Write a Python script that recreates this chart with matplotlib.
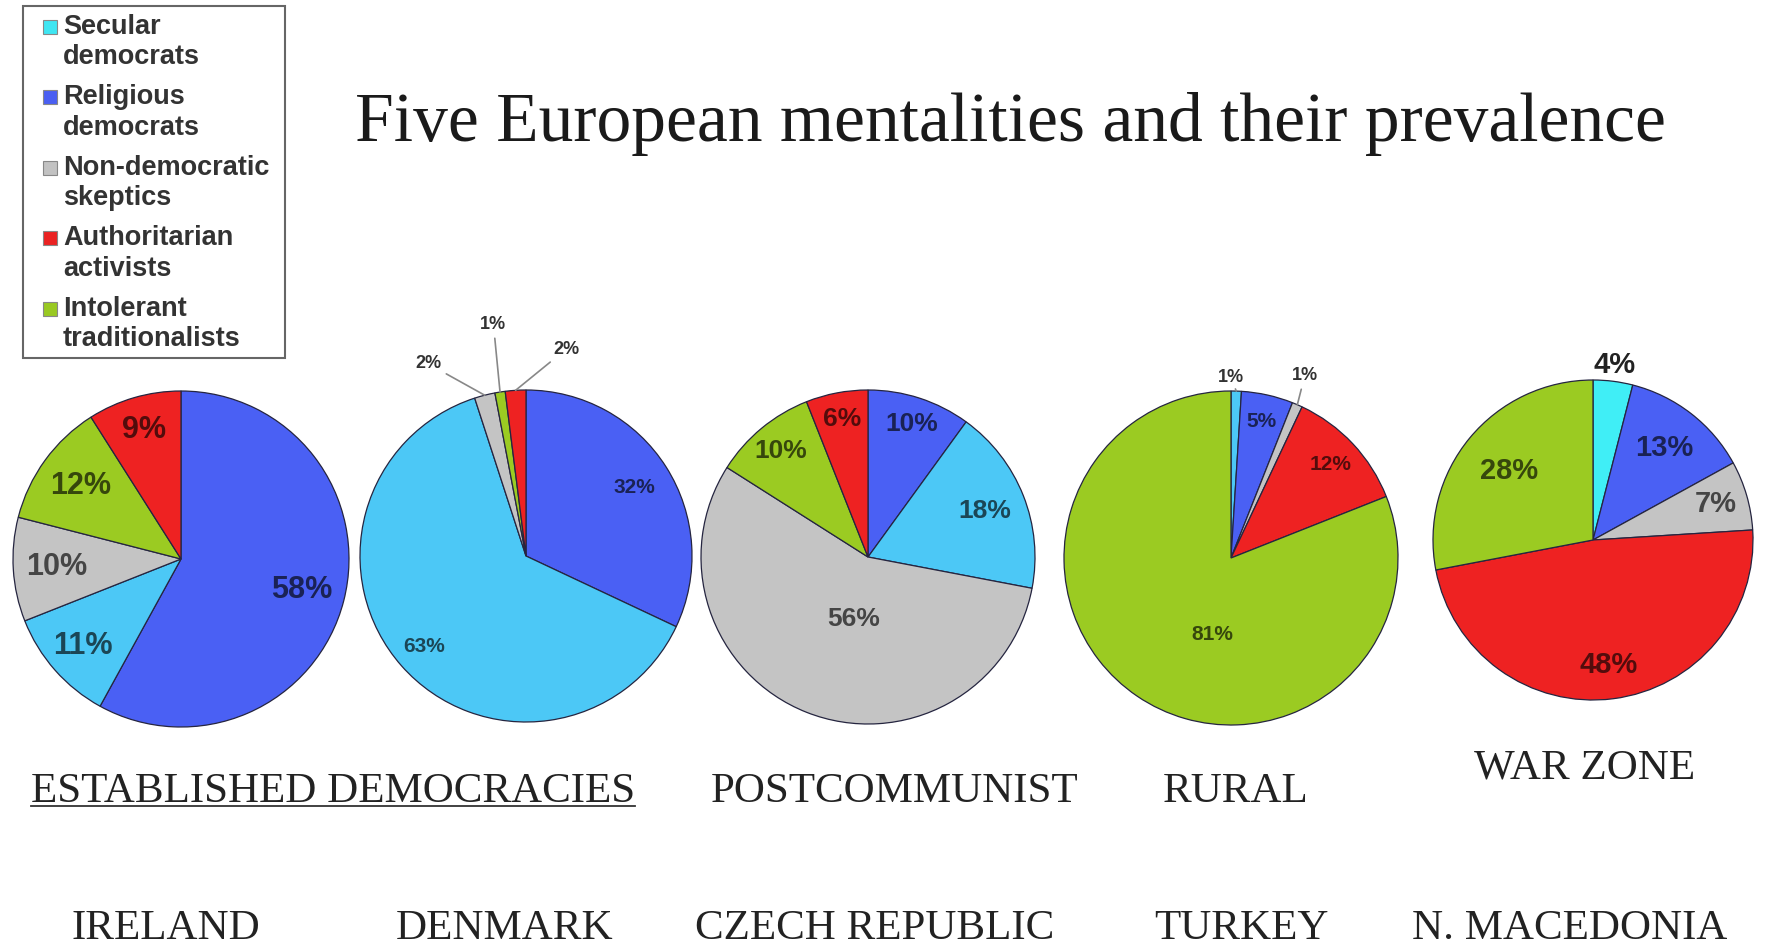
import matplotlib.pyplot as plt
import numpy as np
from matplotlib.colors import to_rgb
from matplotlib.patches import Rectangle
from matplotlib.lines import Line2D

W, H = 1766, 946

# legend categories (legend order)
categories = ['Secular\ndemocrats', 'Religious\ndemocrats', 'Non-democratic\nskeptics',
              'Authoritarian\nactivists', 'Intolerant\ntraditionalists']
legend_colors = ['#3fe6f2', '#4a5ff2', '#c2c2c2', '#ea2222', '#99c922']
slice_colors = ['#4cc8f6', '#4a60f4', '#c4c4c4', '#ee2222', '#9bcb22']

# shares in legend order: secular, religious, skeptics, authoritarian, intolerant
countries = ['IRELAND', 'DENMARK', 'CZECH REPUBLIC', 'TURKEY', 'N. MACEDONIA']
ireland = [11, 58, 10, 9, 12]
denmark = [63, 32, 2, 2, 1]
czech = [18, 10, 56, 6, 10]
turkey = [1, 5, 1, 12, 81]
macedonia = [4, 13, 7, 48, 28]
shares = [ireland, denmark, czech, turkey, macedonia]

groups = ['ESTABLISHED DEMOCRACIES', 'POSTCOMMUNIST', 'RURAL', 'WAR ZONE']

# clockwise slice order from 12 o'clock (indices into legend order)
order_a = [1, 0, 2, 4, 3]
order_b = [0, 1, 2, 3, 4]

# layout of each pie: center x, center y, radius (pixels), slice order, font size
# lab_r: label radius per slice (or (radius, angle) when the label sits off the mid angle)
pies = [
    dict(cx=181, cy=559, r=168, order=order_a, fs=22, lab_r=[0.74, 0.78, 0.74, 0.74, 0.8]),
    dict(cx=526, cy=556, r=166, order=order_a, fs=15, lab_r=[0.77, 0.82, None, None, None]),
    dict(cx=868, cy=557, r=167, order=order_a, fs=19, lab_r=[0.84, 0.75, (0.38, -103), 0.82, 0.84]),
    dict(cx=1231, cy=558, r=167, order=order_b, fs=15, lab_r=[None, 0.84, None, 0.82, (0.47, -104)]),
    dict(cx=1593, cy=540, r=160, order=order_b, fs=21, lab_r=[1.1, 0.73, 0.8, 0.79, 0.68]),
]
# outside labels with leader lines: pie index -> {slice position: (radius, angle)}
outside = {
    1: {2: (1.30, 117), 3: (1.41, 98), 4: (1.27, 79)},
    3: {0: (1.08, 90), 2: (1.18, 68)},
}

fig = plt.figure(figsize=(W / 100, H / 100), dpi=100)
fig.patch.set_facecolor('white')


def fx(x):
    return x / W


def fy(y):
    return 1 - y / H


for k, (p, vals) in enumerate(zip(pies, shares)):
    ax = fig.add_axes([fx(p['cx'] - p['r']), fy(p['cy'] + p['r']), 2 * p['r'] / W, 2 * p['r'] / H])
    v = [vals[i] for i in p['order']]
    cols = [slice_colors[i] for i in p['order']]
    if k == 4:
        cols[0] = '#40eef6'
    wedges, _ = ax.pie(v, colors=cols, startangle=90, counterclock=False, radius=1,
                       wedgeprops=dict(edgecolor='#252540', linewidth=0.9))
    ax.set_xlim(-1, 1)
    ax.set_ylim(-1, 1)
    ax.axis('off')
    for j, w in enumerate(wedges):
        mid = np.deg2rad((w.theta1 + w.theta2) / 2)
        txt = f'{v[j]}%'
        rl = p['lab_r'][j]
        if rl is not None:
            if isinstance(rl, tuple):
                rl, ang = rl
                mid = np.deg2rad(ang)
            tc = np.array(to_rgb(cols[j])) * 0.35
            if rl > 1:
                tc = '#222222'
            ax.text(rl * np.cos(mid), rl * np.sin(mid), txt, ha='center', va='center',
                    fontsize=p['fs'], fontweight='bold', color=tc,
                    family='Liberation Sans', clip_on=False)
        elif k in outside and j in outside[k]:
            rr, ang = outside[k][j]
            a = np.deg2rad(ang)
            ax.annotate(txt, xy=(np.cos(mid), np.sin(mid)),
                        xytext=(rr * np.cos(a), rr * np.sin(a)),
                        ha='center', va='center', fontsize=13, fontweight='bold',
                        color='#333333', family='Liberation Sans', annotation_clip=False,
                        arrowprops=dict(arrowstyle='-', color='#888888', lw=1.2,
                                        shrinkA=2, shrinkB=0))

# title
fig.text(fx(1010), fy(141), 'Five European mentalities and their prevalence', ha='center',
         va='baseline', fontsize=50, family='Liberation Serif', color='#1a1a1a')

# group and country labels
serif = dict(family='Liberation Serif', color='#222222', va='baseline', ha='center')
group_x = [333, 895, 1236, 1585]
group_y = [802, 802, 802, 778]
gtexts = []
for g, x, y in zip(groups, group_x, group_y):
    gtexts.append(fig.text(fx(x), fy(y), g, fontsize=31, **serif))
country_x = [166, 505, 875, 1241, 1570]
for c, x in zip(countries, country_x):
    fig.text(fx(x), fy(939), c, fontsize=31, **serif)

# underline the first group label
fig.canvas.draw()
bb = gtexts[0].get_window_extent(fig.canvas.get_renderer()).transformed(fig.transFigure.inverted())
fig.add_artist(Line2D([bb.x0, bb.x1], [fy(806), fy(806)], color='#333333', lw=1.3))

# legend box
fig.add_artist(Rectangle((fx(23), fy(358)), (285 - 23) / W, (358 - 6) / H,
                         facecolor='white', edgecolor='#666666', lw=1.5))
for i, (lab, c) in enumerate(zip(categories, legend_colors)):
    y0 = 27 + 70.4 * i
    fig.add_artist(Rectangle((fx(43), fy(y0 + 7)), 14 / W, 14 / H,
                             facecolor=c, edgecolor='#888888', lw=0.8))
    for n, line in enumerate(lab.split('\n')):
        fig.text(fx(63), fy(y0 + 30.4 * n), line, ha='left', va='center', fontsize=19.5,
                 fontweight='bold', family='Liberation Sans', color='#333333')

fig.savefig('out.png', dpi=100)
